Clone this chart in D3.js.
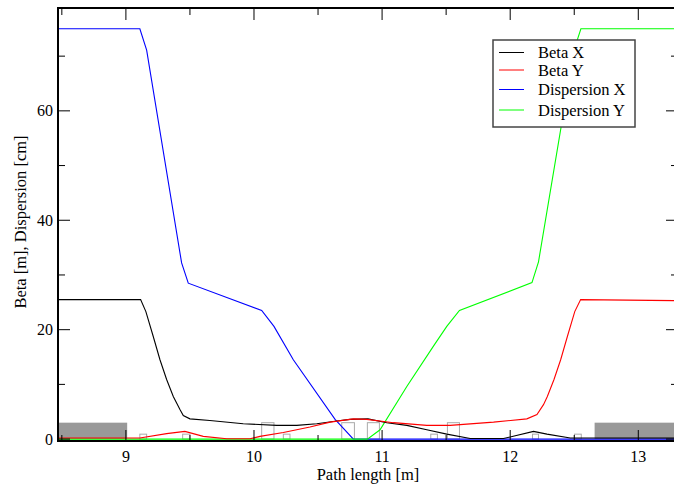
<!DOCTYPE html>
<html>
<head>
<meta charset="utf-8">
<script src="https://cdn.jsdelivr.net/npm/d3@7"></script>
<style>
    html, body { margin: 0; padding: 0; background: #fff; }
    svg { display: block; }
    text { font-family: "Liberation Serif", "DejaVu Serif", serif; fill: #000; }
</style>
</head>
<body>
<div id="chart-div"></div>
<script>
// lattice functions, [path length m, value]
const betaX = [
    [8.47, 25.5], [9.115, 25.5], [9.156, 23.3], [9.213, 18.8], [9.266, 14.5],
    [9.318, 10.9], [9.37, 7.8], [9.422, 5.4], [9.448, 4.3], [9.5, 3.7],
    [9.656, 3.4], [9.916, 2.8], [10.177, 2.5], [10.334, 2.5], [10.49, 2.8],
    [10.646, 3.3], [10.75, 3.6], [10.89, 3.7], [11.037, 3.0], [11.193, 2.5],
    [11.349, 1.7], [11.505, 0.9], [11.688, 0.1], [11.948, 0.1], [12.182, 1.4],
    [12.287, 0.9], [12.469, 0.2], [13.31, 0.2]
];
const betaY = [
    [8.47, 0.2], [9.109, 0.2], [9.318, 1.0], [9.461, 1.4], [9.604, 0.5],
    [9.787, 0.05], [9.969, 0.05], [10.047, 0.5], [10.229, 1.2], [10.437, 2.2],
    [10.594, 3.1], [10.776, 3.7], [10.88, 3.6], [11.088, 3.0], [11.349, 2.5],
    [11.531, 2.5], [11.87, 3.1], [12.13, 3.7], [12.209, 4.5], [12.26, 6.3],
    [12.29, 7.8], [12.342, 10.9], [12.394, 14.5], [12.447, 18.8], [12.504, 23.3],
    [12.55, 25.5], [13.31, 25.3]
];
const dispX = [
    [8.47, 75], [9.109, 75], [9.162, 71.1], [9.435, 32.2], [9.487, 28.5],
    [10.06, 23.5], [10.156, 20.6], [10.307, 14.5], [10.633, 3.6], [10.776, 0],
    [13.31, 0]
];
const dispY = [
    [8.47, 0], [10.885, 0], [10.984, 1.7], [11.193, 9.6], [11.401, 17.0],
    [11.505, 20.6], [11.604, 23.5], [12.17, 28.6], [12.221, 32.4], [12.498, 71.1],
    [12.552, 75], [13.31, 75]
];

// beamline elements [start, end, height]
const quads = [[10.06, 10.156, 3.0], [10.685, 10.784, 3.0], [10.885, 10.979, 3.0], [11.51, 11.604, 3.0]];
const smallElems = [[9.109, 9.162, 0.9], [9.443, 9.5, 0.9], [10.229, 10.281, 0.9],
                    [11.38, 11.432, 0.9], [12.174, 12.221, 0.9], [12.502, 12.555, 0.9]];
const blocks = [[8.47, 9.01, 3.0], [12.659, 13.31, 3.0]];

const xMajor = [9, 10, 11, 12, 13];
const xMinor = [8.5, 9.5, 10.5, 11.5, 12.5];
const yMajor = [0, 20, 40, 60];
const yMinor = [10, 30, 50, 70];

const seriesNames = ['Beta X', 'Beta Y', 'Dispersion X', 'Dispersion Y'];
const seriesColors = ['#000000', '#ff0000', '#0000ff', '#00ff00'];

window.Vis = window.Vis || {};

Vis.init = function() {
    Vis.width = 674;
    Vis.height = 489;
    Vis.left = 58;
    Vis.right = 678;
    Vis.top = 8;
    Vis.bottom = 441;

    Vis.svg = d3.select('#chart-div').append('svg')
                .attr('width', Vis.width)
                .attr('height', Vis.height);

    Vis.x = d3.scaleLinear().domain([8.47, 13.31]).range([Vis.left, Vis.right]);
    Vis.y = d3.scaleLinear().domain([-0.35, 78.8]).range([Vis.bottom, Vis.top]);

    Vis.drawElements();
    Vis.drawCurves();
    Vis.drawFrame();
    Vis.drawLabels();
    Vis.drawLegend();
};

Vis.drawElements = function() {
    let g = Vis.svg.append('g');
    g.selectAll('rect.block').data(blocks).join('rect')
        .attr('x', d => Vis.x(d[0]))
        .attr('width', d => Vis.x(d[1]) - Vis.x(d[0]))
        .attr('y', d => Vis.y(d[2]))
        .attr('height', d => Vis.y(0) - Vis.y(d[2]))
        .attr('fill', '#999');

    g.selectAll('rect.mag').data(quads.concat(smallElems)).join('rect')
        .attr('x', d => Vis.x(d[0]))
        .attr('width', d => Vis.x(d[1]) - Vis.x(d[0]))
        .attr('y', d => Vis.y(d[2]))
        .attr('height', d => Vis.y(0) - Vis.y(d[2]))
        .attr('fill', 'none')
        .attr('stroke', '#aaa')
        .attr('stroke-width', 1);
};

Vis.drawCurves = function() {
    let line = d3.line().x(d => Vis.x(d[0])).y(d => Vis.y(d[1]));
    let all = [betaX, betaY, dispX, dispY];

    // draw dispersion first so the betas sit on top near zero
    [2, 3, 0, 1].forEach(function(i) {
        Vis.svg.append('path')
            .datum(all[i])
            .attr('d', line)
            .attr('fill', 'none')
            .attr('stroke', seriesColors[i])
            .attr('stroke-width', 1.1);
    });
};

Vis.drawFrame = function() {
    let g = Vis.svg.append('g').attr('stroke', '#000');

    // bottom and top ticks point inward
    xMajor.concat(xMinor).forEach(function(v) {
        let len = xMajor.includes(v) ? 11 : 6;
        let px = Vis.x(v);
        g.append('line').attr('x1', px).attr('x2', px)
            .attr('y1', Vis.bottom).attr('y2', Vis.bottom - len);
        g.append('line').attr('x1', px).attr('x2', px)
            .attr('y1', Vis.top).attr('y2', Vis.top + len + 1);
    });

    yMajor.concat(yMinor).forEach(function(v) {
        let len = yMajor.includes(v) ? 12 : 7;
        let py = Vis.y(v);
        g.append('line').attr('y1', py).attr('y2', py)
            .attr('x1', Vis.left).attr('x2', Vis.left + len);
        g.append('line').attr('y1', py).attr('y2', py)
            .attr('x1', Vis.right).attr('x2', Vis.right - len);
    });

    g.append('rect')
        .attr('x', Vis.left).attr('y', Vis.top)
        .attr('width', Vis.right - Vis.left)
        .attr('height', Vis.bottom - Vis.top)
        .attr('fill', 'none')
        .attr('stroke-width', 2);
};

Vis.drawLabels = function() {
    Vis.svg.append('g').selectAll('text').data(xMajor).join('text')
        .attr('x', d => Vis.x(d))
        .attr('y', 462)
        .attr('text-anchor', 'middle')
        .style('font-size', '16px')
        .text(d => d);

    Vis.svg.append('g').selectAll('text').data(yMajor).join('text')
        .attr('x', 53)
        .attr('y', d => Vis.y(d) + 5.5)
        .attr('text-anchor', 'end')
        .style('font-size', '16px')
        .text(d => d);

    Vis.svg.append('text')
        .attr('x', 368).attr('y', 480)
        .attr('text-anchor', 'middle')
        .style('font-size', '16.5px')
        .text('Path length [m]');

    Vis.svg.append('text')
        .attr('transform', 'translate(26,222) rotate(-90)')
        .attr('text-anchor', 'middle')
        .style('font-size', '16.5px')
        .text('Beta [m], Dispersion [cm]');
};

Vis.drawLegend = function() {
    let rows = [52.5, 70, 89.5, 110];
    let g = Vis.svg.append('g');

    g.append('rect')
        .attr('x', 493).attr('y', 40)
        .attr('width', 142).attr('height', 87)
        .attr('fill', '#fff')
        .attr('stroke', '#444')
        .attr('stroke-width', 1.5);

    seriesNames.forEach(function(name, i) {
        g.append('line')
            .attr('x1', 499).attr('x2', 524)
            .attr('y1', rows[i]).attr('y2', rows[i])
            .attr('stroke', seriesColors[i])
            .attr('stroke-width', 1);
        g.append('text')
            .attr('x', 538).attr('y', rows[i] + 5.5)
            .style('font-size', '16.5px')
            .text(name);
    });
};

document.addEventListener('DOMContentLoaded', Vis.init);
</script>
</body>
</html>
